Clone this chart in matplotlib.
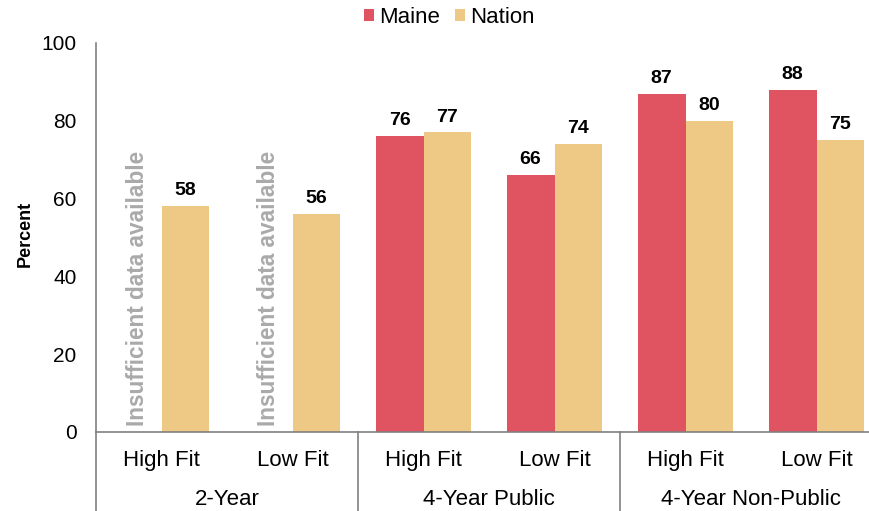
import matplotlib.pyplot as plt
import matplotlib.transforms as mtransforms
import numpy as np

plt.rcParams['font.family'] = ['Liberation Sans', 'DejaVu Sans']

fits = ['High Fit', 'Low Fit', 'High Fit', 'Low Fit', 'High Fit', 'Low Fit']
groups = ['2-Year', '4-Year Public', '4-Year Non-Public']
maine = [None, None, 76, 66, 87, 88]
nation = [58, 56, 77, 74, 80, 75]
missing_note = 'Insufficient data available'

red = '#E05462'
tan = '#EDC985'

fig = plt.figure(figsize=(8.69, 5.11), dpi=100)
ax = fig.add_axes([0.1105, 0.1546, 1.015 - 0.1105, 0.9159 - 0.1546])

x = np.arange(len(fits))
w = 0.365
m_vals = [v if v is not None else 0 for v in maine]
ax.bar(x - w / 2, m_vals, w, color=red, label='Maine')
ax.bar(x + w / 2, nation, w, color=tan, label='Nation')

for i, v in enumerate(maine):
    if v is None:
        ax.text(x[i] - w / 2, 1.5, missing_note, rotation=90, ha='center', va='bottom',
                color='#AAAAAA', fontsize=16.3, fontweight='bold')
    else:
        ax.annotate(str(v), (x[i] - w / 2, v), xytext=(0, 5), textcoords='offset points',
                    ha='center', va='bottom', fontsize=14, fontweight='bold')
for i, v in enumerate(nation):
    ax.annotate(str(v), (x[i] + w / 2, v), xytext=(0, 5), textcoords='offset points',
                ha='center', va='bottom', fontsize=14, fontweight='bold')

ax.set_xlim(-0.5, 5.5)
ax.set_ylim(0, 100)
ax.set_yticks([0, 20, 40, 60, 80, 100])
ax.tick_params(axis='y', length=0, labelsize=15, pad=14)
ax.set_xticks([])
for s in ['top', 'right']:
    ax.spines[s].set_visible(False)
for s in ['left', 'bottom']:
    ax.spines[s].set_color('#808080')
    ax.spines[s].set_linewidth(1.2)
fig.text(25 / 869, 0.543, 'Percent', rotation=90, ha='center', va='center',
         fontsize=13, fontweight='bold')

trans = mtransforms.blended_transform_factory(ax.transData, ax.transAxes)
for i, lab in enumerate(fits):
    ax.text(x[i], -0.074, lab, transform=trans, ha='center', va='center', fontsize=16)
for g, lab in enumerate(groups):
    ax.text(2 * g + 0.5, -0.174, lab, transform=trans, ha='center', va='center', fontsize=16)
for xd in [-0.5, 1.5, 3.5, 5.5]:
    ax.plot([xd, xd], [0, -0.25], transform=trans, color='#808080', lw=1.2, clip_on=False)

fig.legend(loc='center', bbox_to_anchor=(0.517, 0.965), ncol=2, frameon=False,
           fontsize=16, handlelength=0.45, handleheight=0.45, handletextpad=0.2,
           columnspacing=0.7)

fig.savefig('out.png', dpi=100)
